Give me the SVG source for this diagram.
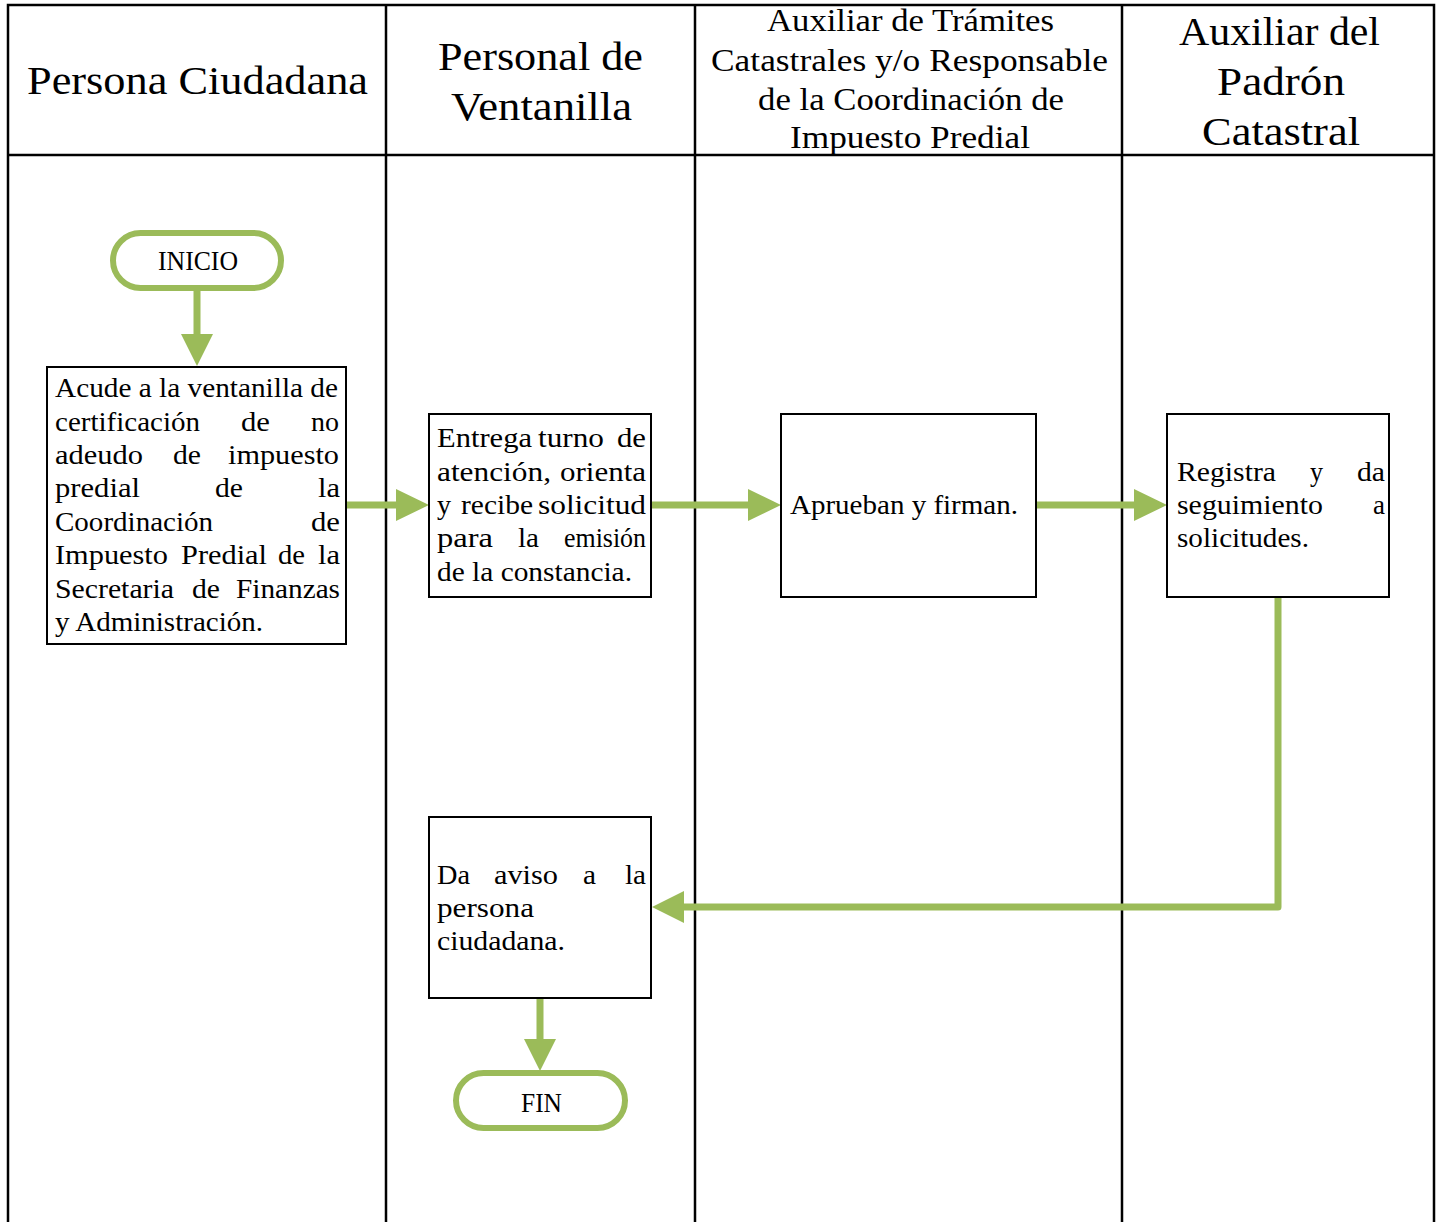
<svg xmlns="http://www.w3.org/2000/svg" width="1439" height="1222" viewBox="0 0 1439 1222">
<style>
.lane{stroke:#000;stroke-width:2.5;fill:none}
.box{fill:#fff;stroke:#000;stroke-width:2}
.term{fill:#fff;stroke:#9BBB59;stroke-width:6}
.conn{stroke:#9BBB59;stroke-width:7;fill:none;stroke-linecap:round;stroke-linejoin:round}
.head{fill:#9BBB59}
.h{font-family:"Liberation Serif","DejaVu Serif",serif;font-size:41px;fill:#000}
.h3{font-family:"Liberation Serif","DejaVu Serif",serif;font-size:32px;fill:#000}
.t{font-family:"Liberation Serif","DejaVu Serif",serif;font-size:28px;fill:#000}
</style>
<rect width="1439" height="1222" fill="#fff"/>
<g id="lanes">
<path class="lane" d="M8 1222V5H1434V1222M8 155H1434M386 5V1222M695 5V1222M1122 5V1222"/>
<text class="h" x="27" y="94" textLength="341" lengthAdjust="spacingAndGlyphs">Persona Ciudadana</text>
<text class="h" x="438" y="70" textLength="205" lengthAdjust="spacingAndGlyphs">Personal de</text>
<text class="h" x="451" y="120" textLength="181" lengthAdjust="spacingAndGlyphs">Ventanilla</text>
<text class="h3" x="767" y="31" textLength="287" lengthAdjust="spacingAndGlyphs">Auxiliar de Trámites</text>
<text class="h3" x="711" y="71" textLength="397" lengthAdjust="spacingAndGlyphs">Catastrales y/o Responsable</text>
<text class="h3" x="758" y="110" textLength="306" lengthAdjust="spacingAndGlyphs">de la Coordinación de</text>
<text class="h3" x="790" y="148" textLength="240" lengthAdjust="spacingAndGlyphs">Impuesto Predial</text>
<text class="h" x="1179" y="45" textLength="201" lengthAdjust="spacingAndGlyphs">Auxiliar del</text>
<text class="h" x="1217" y="95" textLength="128" lengthAdjust="spacingAndGlyphs">Padrón</text>
<text class="h" x="1202" y="145" textLength="158" lengthAdjust="spacingAndGlyphs">Catastral</text>
</g>
<g id="connectors">
<line class="conn" x1="197" y1="291" x2="197" y2="336"/>
<polygon class="head" points="181,334 213,334 197,366"/>
<line class="conn" x1="345" y1="505" x2="398" y2="505"/>
<polygon class="head" points="396,489 396,521 429,505"/>
<line class="conn" x1="652" y1="505" x2="750" y2="505"/>
<polygon class="head" points="748,489 748,521 781,505"/>
<line class="conn" x1="1036" y1="505" x2="1136" y2="505"/>
<polygon class="head" points="1134,489 1134,521 1167,505"/>
<path class="conn" d="M1278 597V907H682"/>
<polygon class="head" points="684,891 684,923 652,907"/>
<line class="conn" x1="540" y1="999" x2="540" y2="1041"/>
<polygon class="head" points="524,1039 556,1039 540,1071"/>
</g>
<g id="inicio">
<rect class="term" x="113" y="233" width="168" height="55" rx="27.5"/>
<text class="t" x="158" y="270" textLength="80" lengthAdjust="spacingAndGlyphs">INICIO</text>
</g>
<g id="acude">
<rect class="box" x="47" y="367" width="299" height="277"/>
<text class="t" x="55" y="397" textLength="283" lengthAdjust="spacingAndGlyphs">Acude a la ventanilla de</text>
<text class="t" y="431"><tspan x="55" textLength="145" lengthAdjust="spacingAndGlyphs">certificación</tspan><tspan x="241" textLength="29" lengthAdjust="spacingAndGlyphs">de</tspan><tspan x="311" textLength="28" lengthAdjust="spacingAndGlyphs">no</tspan></text>
<text class="t" y="464"><tspan x="55" textLength="88" lengthAdjust="spacingAndGlyphs">adeudo</tspan><tspan x="173" textLength="28" lengthAdjust="spacingAndGlyphs">de</tspan><tspan x="228" textLength="111" lengthAdjust="spacingAndGlyphs">impuesto</tspan></text>
<text class="t" y="497"><tspan x="55" textLength="85" lengthAdjust="spacingAndGlyphs">predial</tspan><tspan x="215" textLength="28" lengthAdjust="spacingAndGlyphs">de</tspan><tspan x="318" textLength="22" lengthAdjust="spacingAndGlyphs">la</tspan></text>
<text class="t" y="531"><tspan x="55" textLength="158" lengthAdjust="spacingAndGlyphs">Coordinación</tspan><tspan x="311" textLength="29" lengthAdjust="spacingAndGlyphs">de</tspan></text>
<text class="t" y="564"><tspan x="55" textLength="113" lengthAdjust="spacingAndGlyphs">Impuesto</tspan><tspan x="181" textLength="86" lengthAdjust="spacingAndGlyphs">Predial</tspan><tspan x="278" textLength="27" lengthAdjust="spacingAndGlyphs">de</tspan><tspan x="318" textLength="22" lengthAdjust="spacingAndGlyphs">la</tspan></text>
<text class="t" y="598"><tspan x="55" textLength="119" lengthAdjust="spacingAndGlyphs">Secretaria</tspan><tspan x="192" textLength="28" lengthAdjust="spacingAndGlyphs">de</tspan><tspan x="236" textLength="104" lengthAdjust="spacingAndGlyphs">Finanzas</tspan></text>
<text class="t" x="55" y="631" textLength="208" lengthAdjust="spacingAndGlyphs">y Administración.</text>
</g>
<g id="entrega">
<rect class="box" x="429" y="414" width="222" height="183"/>
<text class="t" y="447"><tspan x="437" textLength="95" lengthAdjust="spacingAndGlyphs">Entrega</tspan><tspan x="538" textLength="66" lengthAdjust="spacingAndGlyphs">turno</tspan><tspan x="617" textLength="29" lengthAdjust="spacingAndGlyphs">de</tspan></text>
<text class="t" y="481"><tspan x="437" textLength="114" lengthAdjust="spacingAndGlyphs">atención,</tspan><tspan x="560" textLength="86" lengthAdjust="spacingAndGlyphs">orienta</tspan></text>
<text class="t" y="514"><tspan x="437" textLength="14" lengthAdjust="spacingAndGlyphs">y</tspan><tspan x="461" textLength="72" lengthAdjust="spacingAndGlyphs">recibe</tspan><tspan x="538" textLength="108" lengthAdjust="spacingAndGlyphs">solicitud</tspan></text>
<text class="t" y="547"><tspan x="437" textLength="56" lengthAdjust="spacingAndGlyphs">para</tspan><tspan x="518" textLength="21" lengthAdjust="spacingAndGlyphs">la</tspan><tspan x="564" textLength="82" lengthAdjust="spacingAndGlyphs">emisión</tspan></text>
<text class="t" x="437" y="581" textLength="195" lengthAdjust="spacingAndGlyphs">de la constancia.</text>
</g>
<g id="aprueban">
<rect class="box" x="781" y="414" width="255" height="183"/>
<text class="t" x="790" y="514" textLength="228" lengthAdjust="spacingAndGlyphs">Aprueban y firman.</text>
</g>
<g id="registra">
<rect class="box" x="1167" y="414" width="222" height="183"/>
<text class="t" y="481"><tspan x="1177" textLength="99" lengthAdjust="spacingAndGlyphs">Registra</tspan><tspan x="1310" textLength="13" lengthAdjust="spacingAndGlyphs">y</tspan><tspan x="1357" textLength="28" lengthAdjust="spacingAndGlyphs">da</tspan></text>
<text class="t" y="514"><tspan x="1177" textLength="146" lengthAdjust="spacingAndGlyphs">seguimiento</tspan><tspan x="1373" textLength="12" lengthAdjust="spacingAndGlyphs">a</tspan></text>
<text class="t" x="1177" y="547" textLength="132" lengthAdjust="spacingAndGlyphs">solicitudes.</text>
</g>
<g id="aviso">
<rect class="box" x="429" y="817" width="222" height="181"/>
<text class="t" y="884"><tspan x="437" textLength="33" lengthAdjust="spacingAndGlyphs">Da</tspan><tspan x="494" textLength="64" lengthAdjust="spacingAndGlyphs">aviso</tspan><tspan x="583" textLength="13" lengthAdjust="spacingAndGlyphs">a</tspan><tspan x="625" textLength="21" lengthAdjust="spacingAndGlyphs">la</tspan></text>
<text class="t" x="437" y="917" textLength="97" lengthAdjust="spacingAndGlyphs">persona</text>
<text class="t" x="437" y="950" textLength="128" lengthAdjust="spacingAndGlyphs">ciudadana.</text>
</g>
<g id="fin">
<rect class="term" x="456" y="1073" width="169" height="55" rx="27.5"/>
<text class="t" x="521" y="1112" textLength="41" lengthAdjust="spacingAndGlyphs">FIN</text>
</g>
</svg>
